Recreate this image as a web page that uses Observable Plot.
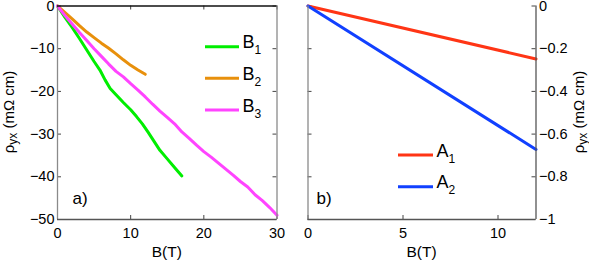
<!DOCTYPE html>
<html>
<head>
<meta charset="utf-8">
<script src="https://cdn.jsdelivr.net/npm/d3@7"></script>
<script src="https://cdn.jsdelivr.net/npm/@observablehq/plot@0.6"></script>
<style>
  html, body { margin: 0; padding: 0; background: #fff; }
  #wrap { position: relative; width: 589px; height: 260px; font-family: "Liberation Sans", Arial, Helvetica, sans-serif; }
  #wrap > div { position: absolute; top: 0; }
  svg { overflow: visible; }
</style>
</head>
<body>
<div id="wrap"><div id="pa" style="left:0px"></div><div id="pb" style="left:290px"></div></div>
<script>
// ---- data ----
const B1 = [[0,0],[1,-2.6],[2,-5],[3,-7.6],[4,-10.3],[5,-13],[5.8,-15],[6.5,-17.3],[7.2,-19.3],[8,-20.8],[9,-22.6],[10,-24.3],[10.8,-25.9],[11.6,-27.6],[12.4,-29.6],[13.2,-31.7],[14,-33.8],[15,-35.8],[16,-37.8],[17,-39.8]];
const B2 = [[0,0],[1,-1.5],[2,-3],[3,-4.6],[4,-6.1],[5,-7.4],[6,-8.7],[7,-9.9],[8,-11.2],[9,-12.6],[10,-13.9],[11,-15],[12,-16]];
const B3 = [[0,0],[1,-2.2],[2,-4.2],[3,-6.2],[4,-8.1],[5,-10],[6,-11.8],[7,-13.6],[8,-15.3],[9,-16.6],[10,-18.2],[11,-19.7],[12,-21.3],[13,-23],[14,-24.6],[15,-26.1],[16,-27.6],[17,-29.5],[18,-31],[19,-32.6],[20,-34.1],[21,-35.4],[22,-36.8],[23,-38.2],[24,-39.6],[25,-41.1],[26,-42.4],[27,-44.2],[28,-45.6],[29,-47.2],[30,-49]];
const A1 = [[0,0],[12,-0.248]];
const A2 = [[0,0],[12,-0.672]];

const seriesA = [{name:"B", sub:"1", data:B1, color:"#00ee00"},
                 {name:"B", sub:"2", data:B2, color:"#e8900c"},
                 {name:"B", sub:"3", data:B3, color:"#ff44ff"}];
const seriesB = [{name:"A", sub:"1", data:A1, color:"#ff3515"},
                 {name:"A", sub:"2", data:A2, color:"#1140ff"}];

const xTicksA = [0,10,20,30];
const yTicksA = [0,-10,-20,-30,-40,-50];
const xTicksB = [0,5,10];
const yTicksB = [0,-0.2,-0.4,-0.6,-0.8,-1];

const fmt = d => (d < 0 ? "\u2212" : "") + String(Math.abs(d));
const FONT = "Liberation Sans, Arial, Helvetica, sans-serif";
const axisGray = "#8a8a8a", dark = "#444";

// ---- panel a ----
const WA = 290, HA = 260, mlA = 57, mrA = 13.5, mtA = 5.5, mbA = 41;
const pwA = WA - mlA - mrA, phA = HA - mtA - mbA;
const plotA = Plot.plot({
  width: WA, height: HA, marginLeft: mlA, marginRight: mrA, marginTop: mtA, marginBottom: mbA,
  style: {fontFamily: FONT, fontSize: "14px", color: "#000", background: "transparent"},
  x: {domain: [0,30]}, y: {domain: [-50,0]},
  marks: [
    Plot.axisX(xTicksA, {tickSize: 0, tickPadding: 8, tickFormat: fmt, label: null, fontSize: 14.5}),
    Plot.axisY(yTicksA, {tickSize: 0, tickPadding: 3, tickFormat: fmt, label: null, fontSize: 14.5}),
    Plot.tickX(xTicksA, {x: d => d, stroke: dark, insetTop: phA - 4}),
    Plot.tickX(xTicksA, {x: d => d, stroke: dark, insetBottom: phA - 4}),
    Plot.tickY(yTicksA, {y: d => d, stroke: dark, insetRight: pwA - 4}),
    Plot.tickY(yTicksA, {y: d => d, stroke: dark, insetLeft: pwA - 4}),
    ...seriesA.map(s => Plot.line(s.data, {x: d => d[0], y: d => d[1], stroke: s.color, strokeWidth: 3})),
    Plot.ruleX([0], {stroke: axisGray, strokeWidth: 1.3}),
    Plot.ruleX([30], {stroke: axisGray, strokeWidth: 1.3}),
    Plot.ruleY([-50], {stroke: "#555", strokeWidth: 1.3}),
    Plot.ruleY([0], {stroke: "#111", strokeWidth: 1.3})
  ]
});
document.getElementById("pa").appendChild(plotA);

// ---- panel b ----
const WB = 299, HB = 260, mlB = 17.5, mrB = 53.5, mtB = 5.5, mbB = 41;
const pwB = WB - mlB - mrB, phB = HB - mtB - mbB;
const plotB = Plot.plot({
  width: WB, height: HB, marginLeft: mlB, marginRight: mrB, marginTop: mtB, marginBottom: mbB,
  style: {fontFamily: FONT, fontSize: "14px", color: "#000", background: "transparent"},
  x: {domain: [0,12]}, y: {domain: [-1,0]},
  marks: [
    Plot.axisX(xTicksB, {tickSize: 0, tickPadding: 8, tickFormat: fmt, label: null, fontSize: 14.5}),
    Plot.axisY(yTicksB, {anchor: "right", tickSize: 0, tickPadding: 3, tickFormat: fmt, label: null, fontSize: 14.5}),
    Plot.tickX(xTicksB, {x: d => d, stroke: dark, insetTop: phB - 4}),
    Plot.tickY(yTicksB, {y: d => d, stroke: dark, insetRight: pwB - 4}),
    Plot.tickY(yTicksB, {y: d => d, stroke: dark, insetLeft: pwB - 4}),
    ...seriesB.map(s => Plot.line(s.data, {x: d => d[0], y: d => d[1], stroke: s.color, strokeWidth: 3})),
    Plot.ruleX([0], {stroke: axisGray, strokeWidth: 1.3}),
    Plot.ruleX([12], {stroke: "#555", strokeWidth: 1.3}),
    Plot.ruleY([-1], {stroke: "#555", strokeWidth: 1.3})
  ]
});
document.getElementById("pb").appendChild(plotB);

// ---- labels and legends ----
function yLabel(svg, cx, cy) {
  const t = d3.select(svg).append("text")
    .attr("transform", `translate(${cx},${cy}) rotate(-90)`)
    .attr("text-anchor", "middle").attr("dominant-baseline", "middle")
    .attr("font-family", FONT).attr("font-size", 15).attr("fill", "#000");
  t.append("tspan").text("\u03c1");
  t.append("tspan").attr("font-size", 12).attr("dy", 4).text("yx");
  t.append("tspan").attr("dy", -4).text(" (m\u03a9 cm)");
}
function xLabel(svg, cx, y) {
  d3.select(svg).append("text").attr("x", cx).attr("y", y)
    .attr("text-anchor", "middle").attr("font-family", FONT).attr("font-size", 15.5)
    .attr("fill", "#000").text("B(T)");
}
function panelTag(svg, x, y, s) {
  d3.select(svg).append("text").attr("x", x).attr("y", y).attr("text-anchor", "start")
    .attr("font-family", FONT).attr("font-size", 17).attr("fill", "#000").text(s);
}
function legend(svg, series, x0, x1, ys) {
  const g = d3.select(svg).append("g");
  series.forEach((s, i) => {
    g.append("line").attr("x1", x0).attr("x2", x1).attr("y1", ys[i]).attr("y2", ys[i])
      .attr("stroke", s.color).attr("stroke-width", 3);
    const t = g.append("text").attr("x", x1 + 3.5).attr("y", ys[i] + 1.5).attr("text-anchor", "start")
      .attr("font-family", FONT).attr("font-size", 18).attr("fill", "#000");
    t.append("tspan").text(s.name);
    t.append("tspan").attr("font-size", 12).attr("dy", 6).text(s.sub);
  });
}

yLabel(plotA, 9.5, 112);
xLabel(plotA, mlA + pwA / 2, 257);
panelTag(plotA, 72.5, 203.5, "a)");
legend(plotA, seriesA, 205, 239, [46.7, 78.3, 110]);

yLabel(plotB, 290, 112);
xLabel(plotB, mlB + pwB / 2, 257);
panelTag(plotB, 26.5, 203.5, "b)");
legend(plotB, seriesB, 108, 143, [155, 186.7]);
</script>
</body>
</html>
